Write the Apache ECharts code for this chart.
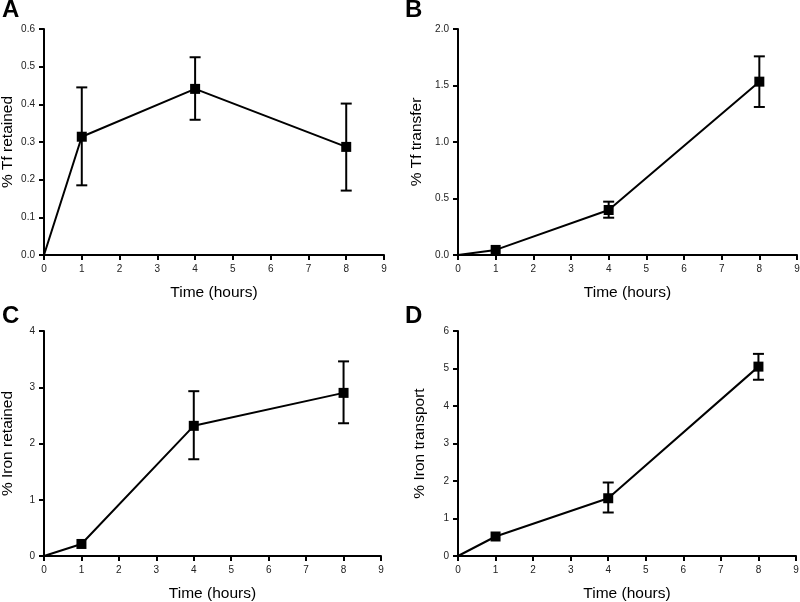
<!DOCTYPE html>
<html>
<head>
<meta charset="utf-8">
<script src="https://cdn.jsdelivr.net/npm/echarts@6/dist/echarts.min.js"></script>
<style>html,body{margin:0;padding:0;background:#fff}#c{width:800px;height:602px}</style>
</head>
<body>
<div id="c"></div>
<script>
const timeHours = [0, 1, 4, 8];
const xTickLabels = ['0','1','2','3','4','5','6','7','8','9'];

const tfRetained = [0, 0.314, 0.441, 0.287];
const tfRetainedLow = [0, 0.185, 0.359, 0.171];
const tfRetainedHigh = [0, 0.445, 0.525, 0.402];

const tfTransfer = [0, 0.045, 0.398, 1.534];
const tfTransferLow = [0, 0.045, 0.33, 1.31];
const tfTransferHigh = [0, 0.045, 0.472, 1.758];

const ironRetained = [0, 0.214, 2.314, 2.90];
const ironRetainedLow = [0, 0.214, 1.72, 2.36];
const ironRetainedHigh = [0, 0.214, 2.93, 3.46];

const ironTransport = [0, 0.52, 1.54, 5.05];
const ironTransportLow = [0, 0.52, 1.16, 4.70];
const ironTransportHigh = [0, 0.52, 1.96, 5.39];

const panelLetters = ['A', 'B', 'C', 'D'];
const yTitles = ['% Tf retained', '% Tf transfer', '% Iron retained', '% Iron transport'];
const xTitle = 'Time (hours)';

const panels = [
  {vals: tfRetained, lo: tfRetainedLow, hi: tfRetainedHigh, max: 0.6, interval: 0.1, dec: 1},
  {vals: tfTransfer, lo: tfTransferLow, hi: tfTransferHigh, max: 2.0, interval: 0.5, dec: 1},
  {vals: ironRetained, lo: ironRetainedLow, hi: ironRetainedHigh, max: 4, interval: 1, dec: 0},
  {vals: ironTransport, lo: ironTransportLow, hi: ironTransportHigh, max: 6, interval: 1, dec: 0}
];

const grids = [
  {left: 44, top: 29, width: 340, height: 226},
  {left: 458, top: 29, width: 339, height: 226},
  {left: 44, top: 331, width: 337, height: 225},
  {left: 458, top: 331, width: 338, height: 225}
];
const yNameGaps = [28.5, 33, 28.5, 30];
const letterPos = [[2, -2], [405, -2], [2, 304], [405, 304]];

const FONT = '"Liberation Sans", Arial, Helvetica, sans-serif';
const axisLineStyle = {color: '#000', width: 2};

const option = {
  animation: false,
  backgroundColor: '#fff',
  grid: grids.map(g => Object.assign({containLabel: false, outerBoundsMode: 'none'}, g)),
  xAxis: panels.map((p, i) => ({
    type: 'value', gridIndex: i, min: 0, max: 9, interval: 1,
    name: xTitle, nameLocation: 'middle', nameGap: 30,
    nameTextStyle: {fontFamily: FONT, fontSize: 15.5, color: '#000'},
    axisLine: {show: true, onZero: false, lineStyle: axisLineStyle},
    axisTick: {show: true, length: 5, lineStyle: {color: '#000', width: 2}},
    axisLabel: {fontFamily: FONT, fontSize: 10, color: '#222', margin: 9,
      formatter: v => xTickLabels[Math.round(v)]},
    splitLine: {show: false}
  })),
  yAxis: panels.map((p, i) => ({
    type: 'value', gridIndex: i, min: 0, max: p.max, interval: p.interval,
    name: yTitles[i], nameLocation: 'middle', nameGap: yNameGaps[i], nameRotate: 90,
    nameTextStyle: {fontFamily: FONT, fontSize: 15.5, color: '#000', verticalAlign: 'bottom'},
    axisLine: {show: true, onZero: false, lineStyle: axisLineStyle},
    axisTick: {show: true, length: 5, lineStyle: {color: '#000', width: 2}},
    axisLabel: {fontFamily: FONT, fontSize: 10, color: '#222', margin: 9,
      formatter: v => v.toFixed(p.dec)},
    splitLine: {show: false}
  })),
  series: [],
  graphic: panelLetters.map((L, i) => ({
    type: 'text', left: letterPos[i][0], top: letterPos[i][1],
    style: {text: L, font: 'bold 24px ' + FONT, fill: '#000'}
  }))
};

panels.forEach((p, i) => {
  option.series.push({
    type: 'line', xAxisIndex: i, yAxisIndex: i,
    data: timeHours.map((t, k) => k === 0 ? {value: [t, p.vals[k]], symbol: 'none'} : [t, p.vals[k]]),
    symbol: 'rect', symbolSize: 10,
    itemStyle: {color: '#000'},
    lineStyle: {color: '#000', width: 2},
    z: 3
  });
  option.series.push({
    type: 'custom', xAxisIndex: i, yAxisIndex: i,
    data: timeHours.map((t, k) => [t, p.lo[k], p.hi[k]]).filter((d, k) => k > 0 && p.hi[k] - p.lo[k] > 0),
    renderItem: (params, api) => {
      const x = api.value(0);
      const lo = api.coord([x, api.value(1)]);
      const hi = api.coord([x, api.value(2)]);
      const hw = 5.5;
      const st = {stroke: '#000', lineWidth: 2};
      return {type: 'group', children: [
        {type: 'line', shape: {x1: lo[0], y1: lo[1], x2: hi[0], y2: hi[1]}, style: st},
        {type: 'line', shape: {x1: hi[0] - hw, y1: hi[1], x2: hi[0] + hw, y2: hi[1]}, style: st},
        {type: 'line', shape: {x1: lo[0] - hw, y1: lo[1], x2: lo[0] + hw, y2: lo[1]}, style: st}
      ]};
    },
    z: 2
  });
});

const chart = echarts.init(document.getElementById('c'), null, {renderer: 'canvas'});
chart.setOption(option);
</script>
</body>
</html>
